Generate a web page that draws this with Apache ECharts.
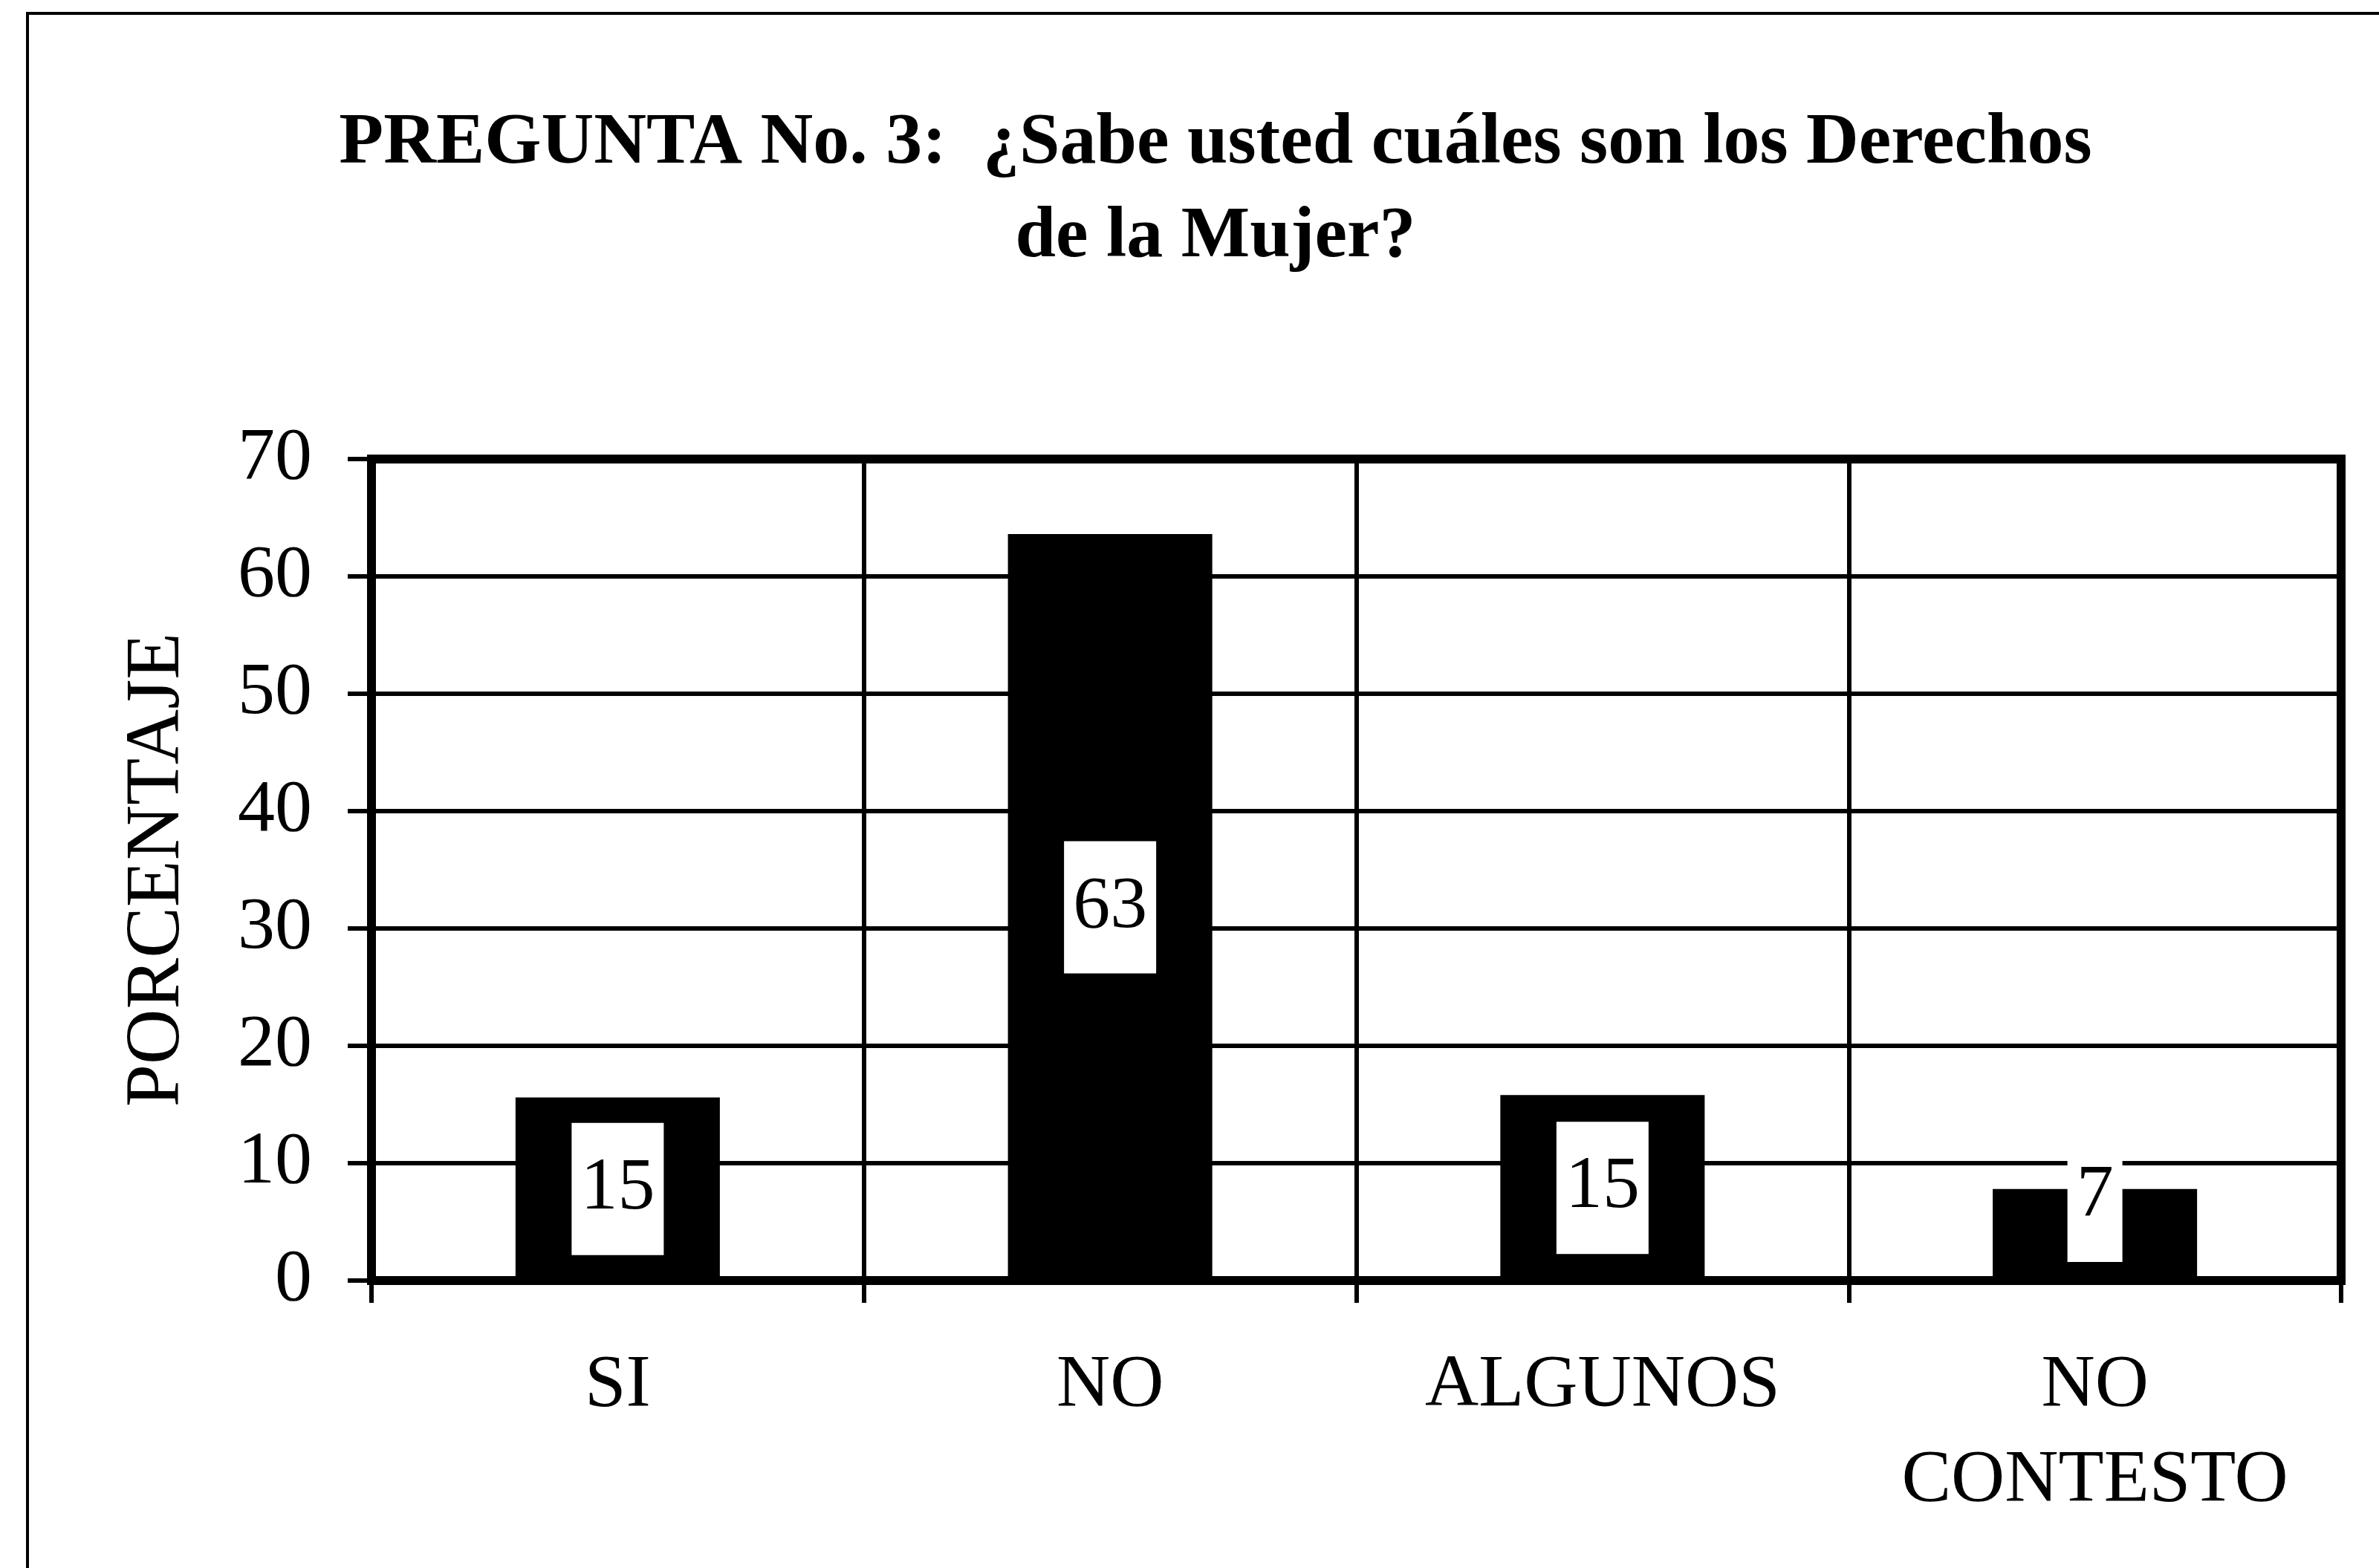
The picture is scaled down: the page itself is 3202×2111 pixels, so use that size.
<!DOCTYPE html>
<html>
<head>
<meta charset="utf-8">
<script src="https://cdn.jsdelivr.net/npm/echarts@6/dist/echarts.min.js"></script>
<style>
  html, body { margin: 0; padding: 0; background: #ffffff; }
  #chart { width: 3202px; height: 2111px; }
</style>
</head>
<body>
<div id="chart"></div>
<script>
// ---- data ----
var titleText = 'PREGUNTA No. 3:  ¿Sabe usted cuáles son los Derechos\nde la Mujer?';
var categories = ['SI', 'NO', 'ALGUNOS', 'NO\nCONTESTO'];
var values = [15.6, 63.6, 15.8, 7.8];          // bar heights
var valueLabels = ['15', '63', '15', '7'];      // printed data labels
var yTicks = [0, 10, 20, 30, 40, 50, 60, 70];
var yAxisName = 'PORCENTAJE';

// ---- chart ----
var chart = echarts.init(document.getElementById('chart'), null, { renderer: 'canvas' });
var FONT = 'Liberation Serif';

var seriesData = values.map(function (v, i) {
  if (v < 12) {
    return { value: v, label: { position: 'insideBottom', distance: 25 } };
  }
  return v;
});

var option = {
  backgroundColor: '#ffffff',
  animation: false,
  graphic: [
    {
      type: 'rect',
      shape: { x: 37, y: 18, width: 3300, height: 2300 },
      style: { fill: 'none', stroke: '#000', lineWidth: 4 },
      silent: true
    },
    {
      type: 'text',
      x: 1636,
      y: 131,
      style: {
        text: titleText,
        font: 'bold 98px "' + FONT + '"',
        fill: '#000',
        textAlign: 'center',
        textVerticalAlign: 'top',
        lineHeight: 126
      }
    }
  ],
  grid: {
    left: 500, right: 51, top: 618, bottom: 387,
    show: true, borderColor: '#000', borderWidth: 12, backgroundColor: 'transparent'
  },
  xAxis: {
    type: 'category',
    data: categories,
    boundaryGap: true,
    axisLine: { show: true, lineStyle: { color: '#000', width: 12 } },
    axisTick: { show: true, interval: 0, inside: false, length: 30, lineStyle: { color: '#000', width: 6 } },
    splitLine: { show: true, interval: 0, lineStyle: { color: '#000', width: 6 } },
    axisLabel: {
      interval: 0,
      margin: 78,
      fontFamily: FONT, fontSize: 100, color: '#000', lineHeight: 128
    }
  },
  yAxis: {
    type: 'value',
    min: yTicks[0], max: yTicks[yTicks.length - 1], interval: 10,
    name: yAxisName,
    nameLocation: 'middle',
    nameRotate: 90,
    nameGap: 236,
    nameTextStyle: { fontFamily: FONT, fontSize: 103, color: '#000' },
    axisLine: { show: true, lineStyle: { color: '#000', width: 12 } },
    axisTick: { show: true, inside: false, length: 32, lineStyle: { color: '#000', width: 6 } },
    splitLine: { show: true, lineStyle: { color: '#000', width: 6 } },
    axisLabel: {
      margin: 80,
      fontFamily: FONT, fontSize: 100, color: '#000',
      formatter: function (v) { return yTicks.indexOf(v) >= 0 ? String(v) : ''; }
    }
  },
  series: [{
    type: 'bar',
    data: seriesData,
    barWidth: '41.5%',
    itemStyle: { color: '#000' },
    label: {
      show: true,
      position: 'inside',
      formatter: function (p) { return valueLabels[p.dataIndex]; },
      fontFamily: FONT, fontSize: 100, color: '#000', lineHeight: 100,
      backgroundColor: '#fff',
      padding: [39, 12]
    }
  }]
};

chart.setOption(option);
</script>
</body>
</html>
